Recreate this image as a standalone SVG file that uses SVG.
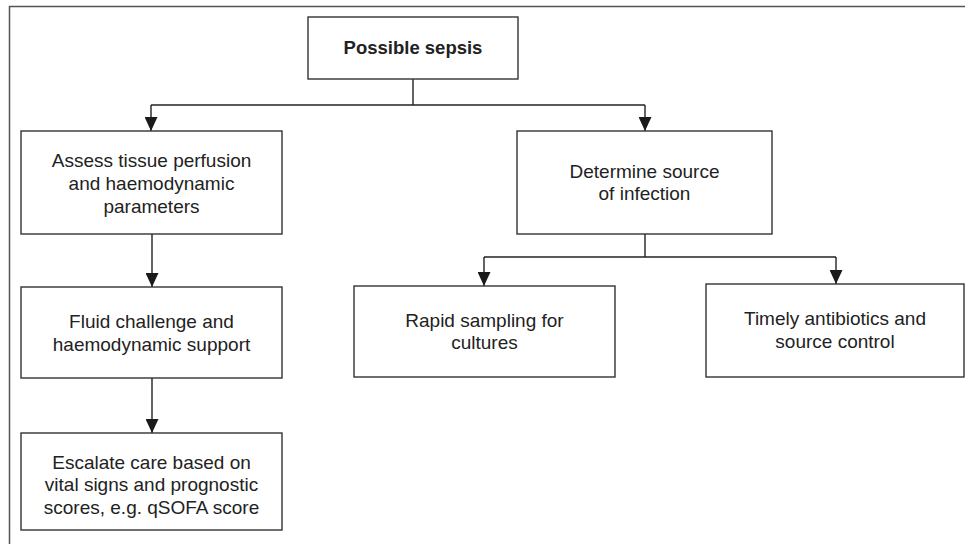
<svg xmlns="http://www.w3.org/2000/svg" width="965" height="544" viewBox="0 0 965 544">
<style>
.box{fill:#fff;stroke:#333;stroke-width:1.4}
.t{font-family:"Liberation Sans",Arial,sans-serif;font-size:19px;fill:#222;text-anchor:middle}
.b{font-weight:bold;font-size:18.5px}
.c{fill:none;stroke:#222;stroke-width:1.4}
.frame{fill:none;stroke:#555;stroke-width:1.5}
</style>
<defs>
<marker id="ah" viewBox="0 0 14 13" refX="14" refY="6.5" markerWidth="14" markerHeight="13" markerUnits="userSpaceOnUse" orient="auto">
<path d="M0,0 L14,6.5 L0,13 Z" fill="#1a1a1a"/>
</marker>
</defs>
<path class="frame" d="M9.5,544 L9.5,6.5 L965,6.5"/>
<g id="connectors">
<path class="c" d="M413,79 L413,105"/>
<path class="c" d="M151,105 L645,105"/>
<path class="c" d="M151,105 L151,131" marker-end="url(#ah)"/>
<path class="c" d="M645,105 L645,131" marker-end="url(#ah)"/>
<path class="c" d="M152,234 L152,287" marker-end="url(#ah)"/>
<path class="c" d="M152,378 L152,433" marker-end="url(#ah)"/>
<path class="c" d="M645,234 L645,257"/>
<path class="c" d="M484,257 L836,257"/>
<path class="c" d="M484,257 L484,286" marker-end="url(#ah)"/>
<path class="c" d="M836,257 L836,284" marker-end="url(#ah)"/>
</g>
<g id="possible-sepsis">
<rect class="box" x="308" y="17" width="210" height="62"/>
<text class="t b" x="413" y="53.5">Possible sepsis</text>
</g>
<g id="assess">
<rect class="box" x="21" y="131" width="261" height="103"/>
<text class="t" x="151.5" y="166.5">Assess tissue perfusion</text>
<text class="t" x="151.5" y="189.5">and haemodynamic</text>
<text class="t" x="151.5" y="212.5">parameters</text>
</g>
<g id="fluid">
<rect class="box" x="21" y="287" width="261" height="91"/>
<text class="t" x="151.5" y="328">Fluid challenge and</text>
<text class="t" x="151.5" y="350.5">haemodynamic support</text>
</g>
<g id="escalate">
<rect class="box" x="21" y="433" width="261" height="97"/>
<text class="t" x="151.5" y="468.5">Escalate care based on</text>
<text class="t" x="151.5" y="491">vital signs and prognostic</text>
<text class="t" x="151.5" y="513.5">scores, e.g. qSOFA score</text>
</g>
<g id="determine">
<rect class="box" x="517" y="131" width="255" height="103"/>
<text class="t" x="644.5" y="177.5">Determine source</text>
<text class="t" x="644.5" y="200">of infection</text>
</g>
<g id="rapid">
<rect class="box" x="354" y="286" width="261" height="91"/>
<text class="t" x="484.5" y="326.5">Rapid sampling for</text>
<text class="t" x="484.5" y="349">cultures</text>
</g>
<g id="timely">
<rect class="box" x="706" y="284" width="258" height="93"/>
<text class="t" x="835" y="325">Timely antibiotics and</text>
<text class="t" x="835" y="347.5">source control</text>
</g>
</svg>
